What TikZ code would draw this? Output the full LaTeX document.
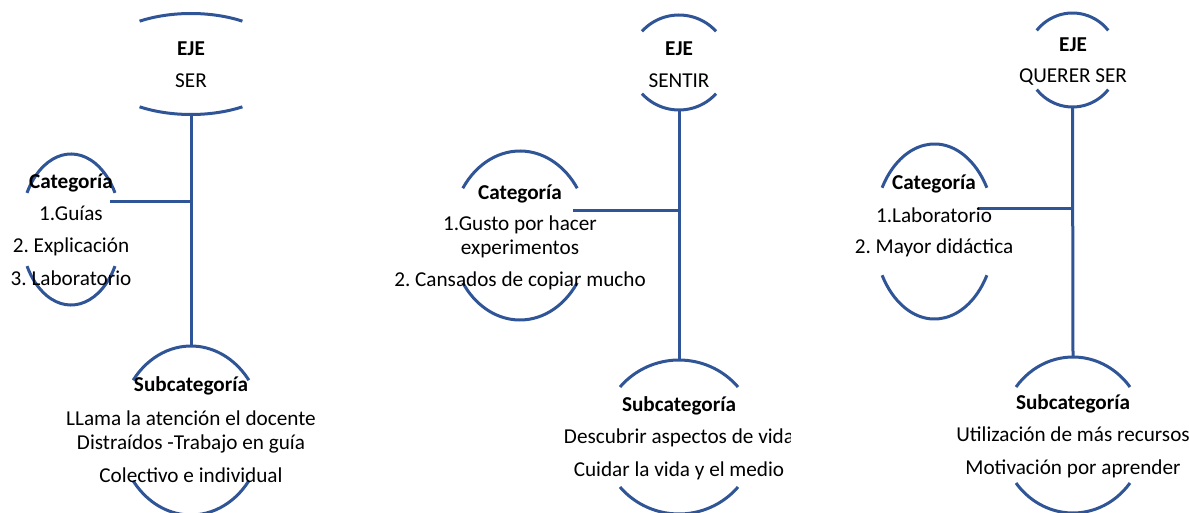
\documentclass[tikz,border=0pt]{standalone}
\usepackage{fontspec}
\setmainfont{Carlito}
\usepackage{tikz}
\usetikzlibrary{calc}
\frenchspacing

\definecolor{ejeblue}{RGB}{47,85,151}

% arcs above and below a block: name, centre, x radius, y radius, cut angle
\newcommand{\bowarcs}[5]{%
	\draw[arcline] (#2) ++(180+#5:#3 and #4) arc[start angle = 180+#5, end angle = 360-#5, x radius = #3, y radius = #4];
	\draw[arcline] (#2) ++(#5:#3 and #4) arc[start angle = #5, end angle = 180-#5, x radius = #3, y radius = #4];
	\path (#2) ++(270:#3 and #4) coordinate (#1-top);
	\path (#2) ++(90:#3 and #4) coordinate (#1-bot);
}

\begin{document}
\begin{tikzpicture}[x = 1pt, y = -1pt]
	\tikzset{arcline/.style = {draw = ejeblue, line width = 3pt}}
	\tikzset{lbl/.style = {align = center, inner sep = 0pt, font = \fontsize{21.2}{24}\selectfont}}
	\useasboundingbox (0,0) rectangle (1189,513);

%% Arcs
\bowarcs{eje1}{191,64}{97}{50.5}{58}
\bowarcs{eje2}{679,62.5}{49}{47.5}{41}
\bowarcs{eje3}{1072.5,60}{46}{47}{39}
\bowarcs{cat1}{71,229.5}{50.3}{75.5}{29}
\bowarcs{cat2}{520,235.5}{69}{84.5}{34}
\bowarcs{cat3}{934.5,231.5}{60.5}{87.5}{30}
\bowarcs{sub1}{191,430.5}{72}{84.5}{36.5}
\bowarcs{sub2}{679,437}{77.6}{77}{40.5}
\bowarcs{sub3}{1073,435}{72.3}{78}{38}

%% Lines
\coordinate (cat1-r) at (110,202);
\coordinate (cat2-r) at (573,211);
\coordinate (cat3-r) at (978,209);
\draw[arcline] (eje1-bot) -- (sub1-top);
\draw[arcline] (eje2-bot) -- (sub2-top);
\draw[arcline] (eje3-bot) -- (sub3-top);
\draw[arcline] (cat1-r) -- (cat1-r -| eje1-bot);
\draw[arcline] (cat2-r) -- (cat2-r -| eje2-bot);
\draw[arcline] (cat3-r) -- (cat3-r -| eje3-bot);

%% Eje nodes
\draw (191,64.5) node[lbl, name = eje1]{\textbf{EJE}\\[8pt] SER};
\draw (679,64.5) node[lbl, name = eje2]{\textbf{EJE}\\[8pt] SENTIR};
\draw (1073,62) node[lbl, name = eje3]{\textbf{EJE}\\[7pt] QUERER SER};

%% Categoria nodes
\draw (71,230) node[lbl, name = cat1]{\textbf{Categoría}\\[8pt] 1.Guías\\[8pt] 2. Explicación\\[9pt] 3. Laboratorio};
\draw (520,237.5) node[lbl, name = cat2]{\textbf{Categoría}\\[7pt] 1.Gusto por hacer\\ experimentos\\[8pt] 2. Cansados de copiar mucho};
\draw (934,216) node[lbl, name = cat3]{\textbf{Categoría}\\[9pt] 1.Laboratorio\\[7pt] 2. Mayor didáctica};

%% Subcategoria nodes
\draw (191,430) node[lbl, name = sub1]{\textbf{Subcategoría}\\[10pt] LLama la atención el docente\\ Distraídos -Trabajo en guía\\[9pt] Colectivo e individual};
\begin{scope}
	\clip (520,380) rectangle (790,500);
	\draw (679,438) node[lbl, name = sub2]{\textbf{Subcategoría}\\[8pt] Descubrir aspectos de vida\\[9pt] Cuidar la vida y el medio};
\end{scope}
\draw (1073,436.5) node[lbl, name = sub3]{\textbf{Subcategoría}\\[8pt] Utilización de más recursos\\[9pt] Motivación por aprender};

\end{tikzpicture}
\end{document}
